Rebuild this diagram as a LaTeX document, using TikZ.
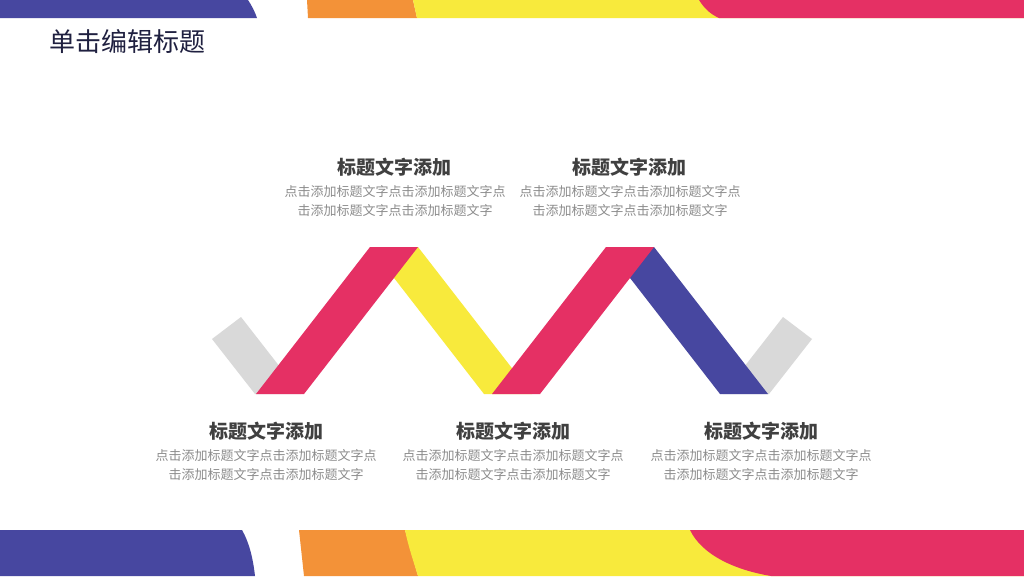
\documentclass[tikz,border=0pt]{standalone}
\usepackage{fontspec}
\newfontfamily\cjk{Noto Sans CJK SC}
\definecolor{cred}{RGB}{229,48,100}
\definecolor{cyel}{RGB}{248,234,60}
\definecolor{cpur}{RGB}{71,71,160}
\definecolor{cgray}{RGB}{217,217,217}
\definecolor{corg}{RGB}{243,146,56}
\definecolor{ctitle}{RGB}{31,32,64}
\definecolor{chead}{RGB}{64,64,64}
\definecolor{cbody}{RGB}{140,140,140}
\tikzset{
  headtxt/.style={inner sep=0pt, text=chead, font=\cjk\bfseries\fontsize{19}{23}\selectfont},
  bodytxt/.style={inner sep=0pt, text=cbody, align=center, font=\cjk\fontsize{13}{19}\selectfont},
}
\begin{document}
\begin{tikzpicture}[x=1pt,y=-1pt]
\fill[white] (0,0) rectangle (1024,576);
\useasboundingbox (0,0) rectangle (1024,576);
% top bar
\fill[cpur] (0,0) -- (248,0) .. controls (252,6) and (255,12) .. (257,18) -- (0,18) -- cycle;
\fill[corg] (307,0) -- (413,0) -- (417,18) -- (308,18) -- cycle;
\fill[cyel] (413,0) -- (1024,0) -- (1024,18) -- (417,18) -- cycle;
\fill[cred] (699,0) .. controls (704,8) and (710,14) .. (719,18) -- (1024,18) -- (1024,0) -- cycle;
% bottom bar
\fill[cpur] (0,530) -- (242,530) .. controls (249,542) and (253,558) .. (255,576) -- (0,576) -- cycle;
\fill[corg] (299,530) -- (405,530) -- (418,576) -- (304,576) -- cycle;
\fill[cyel] (405,530) -- (1024,530) -- (1024,576) -- (418,576) .. controls (413,560) and (408,545) .. (405,530) -- cycle;
\fill[cred] (690,530) .. controls (702,555) and (735,570) .. (771,576) -- (1024,576) -- (1024,530) -- cycle;
% zigzag ribbon
\fill[cgray] (212,339) -- (241,317) -- (301,394) -- (255,394) -- cycle;
\fill[cgray] (812,339) -- (783,317) -- (723,394) -- (769,394) -- cycle;
\fill[cyel] (370,247) -- (418,247) -- (532,394) -- (484,394) -- cycle;
\fill[cpur] (606,247) -- (654,247) -- (768,394) -- (720,394) -- cycle;
\fill[cred] (256,394) -- (304,394) -- (418,247) -- (370,247) -- cycle;
\fill[cred] (492,394) -- (540,394) -- (654,247) -- (606,247) -- cycle;
% title
\node[inner sep=0pt, anchor=west, text=ctitle, font=\cjk\fontsize{26}{31}\selectfont] (title) at (49,42) {单击编辑标题};
% text blocks
\node[headtxt] (h1) at (394,167) {标题文字添加};
\node[bodytxt] (b1) at (395,201) {点击添加标题文字点击添加标题文字点\\击添加标题文字点击添加标题文字};
\node[headtxt] (h2) at (629,167) {标题文字添加};
\node[bodytxt] (b2) at (630,201) {点击添加标题文字点击添加标题文字点\\击添加标题文字点击添加标题文字};
\node[headtxt] (h3) at (266,431) {标题文字添加};
\node[bodytxt] (b3) at (266,465) {点击添加标题文字点击添加标题文字点\\击添加标题文字点击添加标题文字};
\node[headtxt] (h4) at (513,431) {标题文字添加};
\node[bodytxt] (b4) at (513,465) {点击添加标题文字点击添加标题文字点\\击添加标题文字点击添加标题文字};
\node[headtxt] (h5) at (761,431) {标题文字添加};
\node[bodytxt] (b5) at (761,465) {点击添加标题文字点击添加标题文字点\\击添加标题文字点击添加标题文字};
\end{tikzpicture}
\end{document}
